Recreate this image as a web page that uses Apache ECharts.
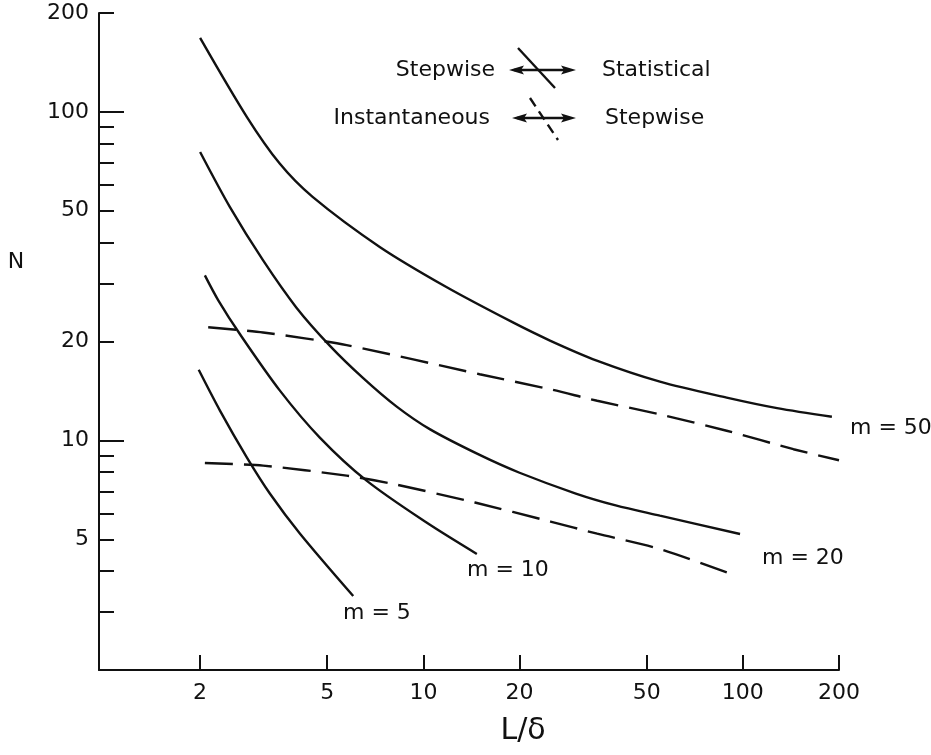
<!DOCTYPE html>
<html>
<head>
<meta charset="utf-8">
<script src="https://cdn.jsdelivr.net/npm/echarts@6/dist/echarts.min.js"></script>
<style>
html,body{margin:0;padding:0;background:#fff;}
#chart{width:931px;height:755px;}
</style>
</head>
<body>
<div id="chart"></div>
<script>
// ---- data ----
const xTicks = [2, 5, 10, 20, 50, 100, 200];
const yLabelTicks = [5, 10, 20, 50, 100, 200];
const yMinorTicks = [3, 4, 5, 6, 7, 8, 9, 20, 30, 40, 50, 60, 70, 80, 90, 200];
const yMajorTicks = [10, 100];

const m50X = [2.0, 2.8, 3.55, 4.5, 7.3, 11.8, 19, 25, 34.9, 55, 89, 128, 190];
const m50Y = [168, 96.6, 69.6, 55.1, 38.8, 29.3, 22.9, 20.1, 17.5, 15.1, 13.5, 12.54, 11.8];

const m20X = [2.0, 2.48, 3.15, 4.0, 5.1, 6.48, 8.25, 10.5, 15, 20, 30, 40, 55, 98];
const m20Y = [75.5, 51.3, 35.3, 25.4, 19.4, 15.47, 12.67, 10.8, 9.03, 7.97, 6.89, 6.34, 5.9, 5.19];

const m10X = [2.07, 2.28, 2.67, 3.55, 4.74, 6.64, 10.2, 14.7];
const m10Y = [31.8, 26.7, 21.0, 14.2, 10.2, 7.54, 5.63, 4.51];

const m5X = [1.98, 2.31, 2.8, 3.31, 4.11, 6.03];
const m5Y = [16.4, 12.3, 8.88, 6.88, 5.2, 3.36];

// boundary: Stepwise <-> Statistical
const upperX = [2.12, 3.15, 5.75, 15, 25, 35, 55, 89, 144, 200];
const upperY = [22.1, 21.3, 19.5, 15.9, 14.3, 13.2, 12.0, 10.7, 9.4, 8.7];

// boundary: Instantaneous <-> Stepwise
const lowerX = [2.07, 3.15, 5.75, 8.04, 14.5, 25, 35, 55, 95.6];
const lowerY = [8.53, 8.38, 7.81, 7.37, 6.47, 5.66, 5.2, 4.67, 3.87];

const curveLabels = ['m = 5', 'm = 10', 'm = 20', 'm = 50'];

// ---- chart ----
const pair = (xs, ys) => xs.map((x, i) => [x, ys[i]]);
const FONT = 'DejaVu Sans';
const INK = '#111';

function solid(name, xs, ys) {
  return {
    name, type: 'line', data: pair(xs, ys), showSymbol: false, smooth: 0.3,
    lineStyle: { color: INK, width: 2.4 }, silent: true, animation: false
  };
}
function dashed(name, xs, ys) {
  return {
    name, type: 'line', data: pair(xs, ys), showSymbol: false, smooth: 0.25,
    lineStyle: { color: INK, width: 2.4, type: [28, 11] }, silent: true, animation: false
  };
}

const chart = echarts.init(document.getElementById('chart'), null, { renderer: 'canvas' });

const txt = (x, y, s, align, size) => ({
  type: 'text', x, y,
  style: { text: s, fill: INK, font: (size || 22) + 'px "' + FONT + '"', textAlign: align || 'left', textVerticalAlign: 'middle' }
});
const seg = (x1, y1, x2, y2, dash) => ({
  type: 'line', shape: { x1, y1, x2, y2 },
  style: { stroke: INK, lineWidth: 2.4, lineDash: dash || null }
});
const head = (pts) => ({ type: 'polygon', shape: { points: pts }, style: { fill: INK } });

chart.setOption({
  animation: false,
  backgroundColor: '#fff',
  grid: { left: 99, right: 92, top: 13, bottom: 85, containLabel: false, outerBoundsMode: 'none' },
  xAxis: {
    type: 'log', logBase: 10, min: 0.965, max: 200,
    axisLine: { show: true, lineStyle: { color: INK, width: 2 } },
    axisTick: { show: true, inside: true, length: 15, lineStyle: { color: INK, width: 2 }, customValues: xTicks },
    axisLabel: { show: true, margin: 12, color: INK, fontSize: 22, fontFamily: FONT, customValues: xTicks,
      formatter: v => String(Math.round(v)) },
    splitLine: { show: false }, minorTick: { show: false }
  },
  yAxis: [{
    type: 'log', logBase: 10, min: 2, max: 200,
    axisLine: { show: true, lineStyle: { color: INK, width: 2 } },
    axisTick: { show: true, inside: true, length: 15, lineStyle: { color: INK, width: 2 }, customValues: yMinorTicks },
    axisLabel: { show: true, margin: 10, color: INK, fontSize: 22, fontFamily: FONT, customValues: yLabelTicks,
      formatter: v => String(Math.round(v)) },
    splitLine: { show: false }, minorTick: { show: false }
  }, {
    type: 'log', logBase: 10, min: 2, max: 200, position: 'left', offset: 0,
    axisLine: { show: false },
    axisTick: { show: true, inside: true, length: 25, lineStyle: { color: INK, width: 2 }, customValues: yMajorTicks },
    axisLabel: { show: false },
    splitLine: { show: false }
  }],
  series: [
    solid('m50', m50X, m50Y),
    solid('m20', m20X, m20Y),
    solid('m10', m10X, m10Y),
    solid('m5', m5X, m5Y),
    dashed('stepwise-statistical', upperX, upperY),
    dashed('instantaneous-stepwise', lowerX, lowerY)
  ],
  graphic: [
    txt(16, 262, 'N', 'center', 22),
    txt(523, 731, 'L/δ', 'center', 30),
    txt(495, 70, 'Stepwise', 'right'),
    seg(514, 70, 568, 70),
    head([[509, 70], [524, 65.5], [521, 70], [524, 74.5]]),
    head([[576, 70], [561, 65.5], [564, 70], [561, 74.5]]),
    seg(518, 48, 555, 88),
    txt(602, 70, 'Statistical', 'left'),
    txt(490, 118, 'Instantaneous', 'right'),
    seg(517, 118, 568, 118),
    head([[512, 118], [527, 113.5], [524, 118], [527, 122.5]]),
    head([[576, 118], [561, 113.5], [564, 118], [561, 122.5]]),
    seg(530, 98, 558, 140, [10, 6]),
    txt(605, 118, 'Stepwise', 'left'),
    txt(343, 613, curveLabels[0], 'left'),
    txt(467, 570, curveLabels[1], 'left'),
    txt(762, 558, curveLabels[2], 'left'),
    txt(850, 428, curveLabels[3], 'left')
  ]
});
</script>
</body>
</html>
